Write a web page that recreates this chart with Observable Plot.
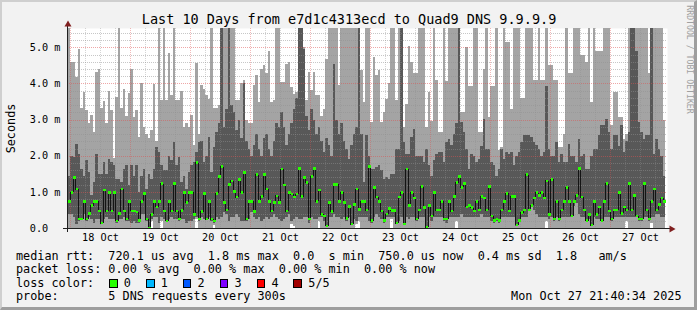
<!DOCTYPE html>
<html><head><meta charset="utf-8">
<script src="https://cdn.jsdelivr.net/npm/d3@7"></script>
<script src="https://cdn.jsdelivr.net/npm/@observablehq/plot@0.6"></script>
<style>
html,body{margin:0;padding:0;background:#fff;}
#chart{position:relative;width:697px;height:310px;overflow:hidden;}
#chart svg text{white-space:pre;}
#chart::after{content:"";position:absolute;left:0;top:0;right:0;bottom:0;box-sizing:border-box;
border-top:2px solid #cfcfcf;border-left:2px solid #cfcfcf;border-right:3px solid #9e9e9e;border-bottom:3px solid #9e9e9e;pointer-events:none;}
</style></head>
<body><div id="chart"></div>
<script>
// hourly smoke data (ms): p1 lowest ping, p2, median, p4, p5 highest ping
const p5 = [
5.53,4.59,4.59,4.18,4.94,3.32,3.77,3.26,2.9,3.12,
2.65,4.32,4.39,3.32,3.51,2.9,3.79,3.26,1.95,3.63,
5.53,3.32,3.84,3.09,3.74,4.41,3.07,3.26,2.51,4.0,
2.8,2.6,2.5,2.7,3.98,2.4,5.53,3.54,5.53,3.54,
4.83,3.67,5.53,3.54,3.54,3.79,2.8,2.9,2.8,3.12,
2.3,4.58,2.6,3.95,3.86,3.67,3.58,5.53,3.31,3.32,
3.4,5.53,5.53,5.53,5.53,5.53,5.53,3.54,3.54,4.0,
4.1,3.0,2.9,2.9,3.95,4.23,3.5,4.4,4.5,4.3,
4.9,3.5,3.55,5.53,5.53,4.05,4.05,4.55,4.6,3.9,
3.7,3.75,5.53,5.53,5.0,3.54,4.32,3.81,4.32,3.67,
3.67,3.1,3.3,4.69,5.53,5.53,5.53,5.53,3.95,5.53,
5.53,5.53,5.53,5.53,5.53,5.53,5.53,4.36,3.48,5.53,
5.53,2.93,4.72,4.23,4.36,2.93,3.2,3.57,4.0,5.53,
5.53,3.54,5.53,5.53,2.79,3.44,5.05,4.6,4.3,4.3,
5.53,5.53,5.53,2.79,3.77,2.97,5.53,4.09,2.65,2.65,
5.53,4.08,5.53,5.53,5.53,5.53,5.53,3.2,3.2,5.0,
3.94,3.94,5.53,5.53,2.65,2.65,4.4,5.53,3.07,3.94,
3.94,5.53,2.15,2.25,5.53,5.14,5.14,3.3,5.53,5.53,
5.53,3.6,3.6,5.53,5.53,5.53,4.1,4.1,5.53,4.1,
4.1,5.53,4.5,4.5,4.1,4.1,2.24,2.24,2.6,5.53,
4.3,4.3,5.53,5.53,5.53,4.8,4.8,4.6,5.53,3.5,
5.53,4.9,4.9,4.9,5.53,5.53,5.53,2.84,3.76,3.76,
3.07,3.07,2.47,2.6,5.53,5.53,5.53,5.53,5.53,5.53,
5.53,5.53,4.3,5.53,5.53,5.53,5.53,5.53,3.0];
const p4 = [
1.45,2.0,1.96,2.33,2.05,1.64,1.45,1.87,1.55,0.9,
1.27,2.05,1.5,1.5,1.82,1.5,1.92,1.82,1.73,1.36,
1.36,1.27,1.64,1.73,1.18,1.73,1.45,1.73,1.0,1.45,
1.64,1.09,1.5,1.36,1.64,2.24,2.1,1.73,1.6,1.6,
2.0,1.87,2.38,1.73,1.96,1.27,1.45,1.09,1.55,1.73,
1.82,2.1,2.38,2.42,1.82,2.0,2.51,1.55,2.24,2.65,
2.9,5.53,2.8,3.3,5.53,3.4,3.2,2.7,3.0,2.5,
4.0,2.4,2.2,2.0,2.3,2.6,2.2,2.0,2.5,2.6,
2.2,2.0,2.4,2.9,2.8,3.2,2.8,2.3,2.6,2.9,
3.3,3.6,5.53,5.53,4.95,3.1,2.7,3.3,3.0,2.6,
2.8,2.4,2.1,2.5,2.3,2.0,4.55,3.0,2.6,2.9,
2.4,2.2,1.9,2.3,2.6,2.8,5.53,2.6,1.27,2.56,
2.0,1.64,1.64,1.7,1.73,1.6,1.36,1.4,1.36,1.5,
1.5,2.19,2.19,5.53,2.38,2.05,2.05,2.51,2.74,2.0,
2.0,2.0,1.82,2.19,1.73,1.45,1.87,2.05,2.1,2.1,
1.82,2.38,2.47,2.3,2.6,2.9,5.53,2.93,2.65,2.19,
1.64,2.05,2.0,1.82,1.9,2.28,3.02,2.19,2.19,1.82,
1.73,1.45,1.64,2.19,1.9,2.1,2.05,2.1,1.73,2.0,
2.1,2.38,2.56,2.56,2.56,2.51,2.38,2.3,2.19,2.0,
2.1,3.94,2.19,2.0,2.0,2.38,1.82,2.05,1.82,1.82,
2.33,2.0,2.0,1.82,2.47,2.0,2.05,1.64,1.64,2.0,
2.19,2.19,2.56,2.84,2.84,3.02,2.65,2.19,2.56,2.56,
2.28,2.84,2.1,2.4,2.65,5.53,5.53,4.9,2.93,2.65,
2.47,2.56,2.56,5.53,2.05,2.47,2.19,2.0,1.45];
const med = [
0.75,1.0,1.41,1.09,0.26,0.26,0.75,0.26,0.42,0.63,
0.75,0.75,0.49,0.15,1.06,0.48,1.0,0.49,1.0,0.21,
0.42,1.09,0.49,0.26,0.75,0.49,0.49,0.46,0.22,0.75,
0.97,0.26,0.02,0.39,0.75,0.6,0.75,1.24,0.48,0.21,
0.75,0.48,1.24,0.48,0.26,0.5,1.0,0.72,1.0,1.0,
0.39,1.82,0.26,0.47,0.97,0.26,0.75,0.26,0.21,0.97,
1.44,1.71,0.72,0.51,1.22,1.32,1.02,0.87,1.36,0.99,
1.55,0.26,0.75,0.75,0.47,1.49,0.75,0.88,1.49,1.09,
0.75,0.48,0.72,0.9,0.72,1.64,1.21,0.48,1.0,0.95,
0.87,0.95,1.66,0.88,1.41,1.27,0.26,1.44,1.66,0.75,
1.06,0.39,0.34,0.07,0.72,0.47,1.22,1.22,0.75,1.0,
0.72,0.28,0.61,0.12,0.66,1.09,0.52,0.75,0.75,0.51,
1.71,0.22,1.14,0.87,0.75,0.48,0.22,0.4,0.55,0.5,
0.5,0.15,0.87,0.99,0.12,1.64,0.64,0.99,0.84,0.26,
0.51,1.16,0.58,0.03,0.64,0.35,0.99,0.51,0.51,0.75,
0.26,0.26,0.75,0.48,0.88,1.27,1.44,1.14,1.24,0.6,
0.64,0.58,0.48,0.75,0.51,0.88,0.84,0.51,1.16,0.35,
0.22,0.26,0.22,0.51,0.75,0.97,0.48,0.88,0.88,0.1,
0.22,0.44,0.51,1.49,0.51,0.64,0.84,0.99,0.92,0.99,
0.84,1.32,0.39,1.36,0.26,0.75,0.26,0.51,0.75,1.14,
0.75,0.35,0.75,0.92,1.66,0.87,0.51,0.22,0.39,0.09,
0.75,0.39,0.59,0.22,0.75,1.24,0.48,0.26,0.51,0.51,
1.0,0.42,0.59,0.51,1.24,0.51,0.91,0.35,0.26,0.26,
1.24,0.51,0.26,0.75,1.09,0.51,0.66,0.84,0.75];
const p2 = [
0.4,0.4,0.3,0.1,0.2,0.25,0.4,0.2,0.3,0.25,
0.15,0.25,0.25,0.1,0.26,0.3,0.25,0.26,0.25,0.15,
0.26,0.25,0.3,0.2,0.2,0.15,0.2,0.15,0.15,0.4,
0.4,0.2,0.0,0.25,0.3,0.3,0.15,0.3,0.26,0.2,
0.26,0.3,0.26,0.26,0.2,0.26,0.26,0.15,0.2,0.2,
0.26,0.3,0.2,0.3,0.26,0.22,0.3,0.2,0.15,0.3,
0.25,0.3,0.45,0.4,0.2,0.3,0.3,0.4,0.3,0.2,
0.2,0.2,0.26,0.45,0.3,0.26,0.3,0.2,0.25,0.3,
0.26,0.3,0.4,0.3,0.26,0.2,0.26,0.3,0.4,0.2,
0.26,0.3,0.26,0.26,0.3,0.3,0.15,0.3,0.26,0.26,
0.3,0.3,0.2,0.05,0.3,0.3,0.4,0.3,0.3,0.26,
0.3,0.2,0.3,0.1,0.26,0.2,0.3,0.3,0.3,0.3,
0.2,0.15,0.3,0.4,0.3,0.26,0.15,0.3,0.3,0.3,
0.3,0.1,0.2,0.3,0.1,0.3,0.26,0.3,0.3,0.2,
0.3,0.3,0.3,0.02,0.3,0.2,0.3,0.3,0.3,0.3,
0.2,0.15,0.3,0.3,0.3,0.3,0.3,0.4,0.3,0.3,
0.3,0.3,0.3,0.3,0.3,0.4,0.3,0.3,0.3,0.2,
0.15,0.2,0.15,0.3,0.3,0.3,0.3,0.3,0.3,0.05,
0.2,0.3,0.3,0.3,0.5,0.58,0.5,0.4,0.3,0.3,
0.3,0.3,0.26,0.3,0.2,0.3,0.2,0.3,0.3,0.3,
0.3,0.3,0.6,0.7,0.4,0.3,0.3,0.2,0.26,0.05,
0.3,0.26,0.26,0.2,0.3,0.3,0.3,0.2,0.3,0.3,
0.3,0.3,0.3,0.3,0.3,0.3,0.3,0.3,0.2,0.2,
0.3,0.3,0.2,0.3,0.3,0.4,0.4,0.3,0.3];
const p1 = [
0,0,0,0,0,0,0,0,0,0,
0,0,0,0,0,0,0,0,0,0,
0,0,0,0,0,0,0,0,0,0,
0,0,0,0.2,0,0,0,0.2,0,0,
0,0,0,0,0,0,0,0,0,0,
0,0.25,0,0,0,0,0,0,0.08,0,
0,0,0,0,0,0,0,0,0,0,
0,0,0,0,0,0,0,0,0,0,
0,0,0,0,0,0,0,0,0,0.1,
0.05,0,0,0,0,0,0,0,0,0,
0.2,0,0,0,0,0,0,0,0,0,
0,0,0,0,0,0.12,0.2,0,0,0,
0,0,0,0,0,0,0,0,0,0.25,
0,0,0,0,0,0,0,0,0,0,
0,0,0,0,0,0,0,0,0,0,
0,0,0,0,0,0.2,0,0,0,0,
0,0,0,0,0,0,0,0,0,0,
0,0,0,0,0,0,0,0,0,0,
0,0,0,0,0,0,0,0,0,0,
0,0.2,0,0,0,0,0,0,0,0,
0,0,0,0,0,0,0,0,0,0,
0,0,0,0,0,0,0,0,0,0,
0,0,0,0.2,0,0,0,0,0,0,
0,0,0,0.15,0,0,0,0,0];

const yTicks = [0, 1, 2, 3, 4, 5];
const yTickLabels = ["0.0  ", "1.0 m", "2.0 m", "3.0 m", "4.0 m", "5.0 m"];
const dayLabels = ["18 Oct","19 Oct","20 Oct","21 Oct","22 Oct","23 Oct","24 Oct","25 Oct","26 Oct","27 Oct"];
const lossLabels = ["0", "1", "2", "3", "4", "5/5"];
const lossColors = ["#26ff00", "#00b8ff", "#0059ff", "#7e00ff", "#ff0000", "#a10000"];

const titleText = "Last 10 Days from e7d1c4313ecd to Quad9 DNS 9.9.9.9";
const legendRtt = "median rtt:  720.1 us avg  1.8 ms max  0.0  s min  750.0 us now  0.4 ms sd  1.8   am/s";
const legendLoss = "packet loss: 0.00 % avg  0.00 % max  0.00 % min  0.00 % now";
const legendColor = "loss color:";
const legendProbe = "probe:       5 DNS requests every 300s";
const stampText = "Mon Oct 27 21:40:34 2025";

const H = 3600e3;
const T0 = Date.UTC(2025, 9, 17, 23);
const xDomain = [new Date(Date.UTC(2025, 9, 17, 22, 48)), new Date(Date.UTC(2025, 9, 27, 22, 48))];
const yMax = 5.535;

const bars = p5.map((_, i) => ({
  t0: new Date(T0 + i * H), t1: new Date(T0 + (i + 1) * H),
  p1: p1[i], p2: p2[i], med: med[i], p4: p4[i], p5: p5[i]
}));
const stepPts = bars.map(d => ({t: d.t0, v: d.med}));
stepPts.push({t: bars[bars.length - 1].t1, v: bars[bars.length - 1].med});

const day0 = Date.UTC(2025, 9, 18);
const sixH = d3.range(0, 40).map(i => new Date(day0 + i * 6 * H));
const minorX = sixH.filter((d, i) => i % 4 !== 0);
const majorX = sixH.filter((d, i) => i % 4 === 0);
const noonTicks = dayLabels.map((_, i) => new Date(day0 + (i * 24 + 12) * H));
const minorY = d3.range(1, 28).filter(i => i % 5 !== 0).map(i => i / 5);
const majorY = [1, 2, 3, 4, 5];

const yLab = new Map(yTicks.map((v, i) => [v, yTickLabels[i]]));
const xLab = new Map(noonTicks.map((d, i) => [+d, dayLabels[i]]));

const gridMinorH = "rgba(143,143,143,0.5)";
const gridMajorH = "rgba(222,79,79,0.5)";
const gridMinorV = "rgba(143,143,143,0.38)";
const gridMajorV = "rgba(222,79,79,0.4)";
const legendFont = 11.8;

const boxLeft = [108.3, 145.2, 182.1, 219.0, 255.9, 292.8];
const lossMarks = [];
lossColors.forEach((c, i) => {
  lossMarks.push(Plot.dot([c], {frameAnchor: "bottom-left", dx: boxLeft[i] + 4.5 - 67, dy: 55,
    symbol: "square", r: 4.3, fill: c, stroke: "#000", strokeWidth: 1, shapeRendering: "crispEdges"}));
  lossMarks.push(Plot.text([lossLabels[i]], {text: d => d, frameAnchor: "bottom-left", dx: boxLeft[i] + 15 - 67, dy: 58,
    textAnchor: "start", lineAnchor: "bottom", fontSize: legendFont}));
});

const chart = Plot.plot({
  width: 697, height: 310,
  marginLeft: 67, marginRight: 30, marginTop: 28, marginBottom: 82,
  style: {fontFamily: "'DejaVu Sans Mono', monospace", fontSize: "10.2px", background: "#f2f2f2", overflow: "visible"},
  x: {type: "utc", domain: xDomain, label: null},
  y: {domain: [0, yMax], label: null},
  marks: [
    Plot.frame({fill: "#ffffff", stroke: null}),
    Plot.rect(bars, {x1: "t0", x2: "t1", y1: "p1", y2: "p5", fill: "#a4a4a4", shapeRendering: "crispEdges"}),
    Plot.rect(bars, {x1: "t0", x2: "t1", y1: "p2", y2: "p4", fill: "#585858", shapeRendering: "crispEdges"}),
    Plot.ruleY(minorY, {stroke: gridMinorH, strokeWidth: 1, strokeDasharray: "1 1", shapeRendering: "crispEdges"}),
    Plot.ruleX(minorX, {stroke: gridMinorV, strokeWidth: 1, strokeDasharray: "1 1"}),
    Plot.ruleY(majorY, {stroke: gridMajorH, strokeWidth: 1, strokeDasharray: "1 1", shapeRendering: "crispEdges"}),
    Plot.ruleX(majorX, {stroke: gridMajorV, strokeWidth: 1, strokeDasharray: "1 1"}),
    Plot.line(stepPts, {x: "t", y: "v", curve: "step-after", stroke: "#141414", strokeWidth: 1, shapeRendering: "crispEdges"}),
    Plot.link(bars, {x1: "t0", x2: "t1", y1: "med", y2: "med", stroke: "#26ff00", strokeWidth: 2.5, shapeRendering: "crispEdges"}),
    Plot.ruleY([0], {stroke: "#1f1f1f", insetLeft: -4, insetRight: -4, shapeRendering: "crispEdges"}),
    Plot.ruleX([xDomain[0]], {stroke: "#1f1f1f", insetTop: -4, insetBottom: -4, shapeRendering: "crispEdges"}),
    Plot.dot([xDomain[1]], {x: d => d, y: () => 0, dx: 4, dy: 0.5, symbol: "triangle", rotate: 90, r: 2.6, fill: "#801f1f", stroke: null}),
    Plot.dot([xDomain[0]], {x: d => d, y: () => yMax, dx: 0.5, dy: -4, symbol: "triangle", r: 2.6, fill: "#801f1f", stroke: null}),
    Plot.axisY(yTicks, {tickSize: 0, tickPadding: 7, tickFormat: v => yLab.get(v), label: null, fill: "#000"}),
    Plot.axisX(noonTicks, {tickSize: 0, tickPadding: 5, tickFormat: d => xLab.get(+d), label: null, fill: "#000"}),
    Plot.text([titleText], {text: d => d, frameAnchor: "top", dx: -18.5, dy: -4.5, lineAnchor: "bottom", textAnchor: "middle", fontSize: 13.5}),
    Plot.text(["Seconds"], {text: d => d, frameAnchor: "left", dx: -56, dy: 0, rotate: -90, textAnchor: "middle", lineAnchor: "middle", fontSize: legendFont}),
    Plot.text(["RRDTOOL / TOBI OETIKER"], {text: d => d, frameAnchor: "top-right", dx: 22, dy: 31, rotate: 90, textAnchor: "middle", lineAnchor: "middle", fontSize: 8.2, fill: "#a0a0a0"}),
    Plot.text([legendRtt], {text: d => d, frameAnchor: "bottom-left", dx: -51.5, dy: 31, textAnchor: "start", lineAnchor: "bottom", fontSize: legendFont}),
    Plot.text([legendLoss], {text: d => d, frameAnchor: "bottom-left", dx: -51.5, dy: 44.5, textAnchor: "start", lineAnchor: "bottom", fontSize: legendFont}),
    Plot.text([legendColor], {text: d => d, frameAnchor: "bottom-left", dx: -51.5, dy: 58, textAnchor: "start", lineAnchor: "bottom", fontSize: legendFont}),
    ...lossMarks,
    Plot.text([legendProbe], {text: d => d, frameAnchor: "bottom-left", dx: -51.5, dy: 71.6, textAnchor: "start", lineAnchor: "bottom", fontSize: legendFont}),
    Plot.text([stampText], {text: d => d, frameAnchor: "bottom-right", dx: 14, dy: 71.6, textAnchor: "end", lineAnchor: "bottom", fontSize: legendFont})
  ]
});
document.getElementById("chart").appendChild(chart);
</script>
</body></html>
